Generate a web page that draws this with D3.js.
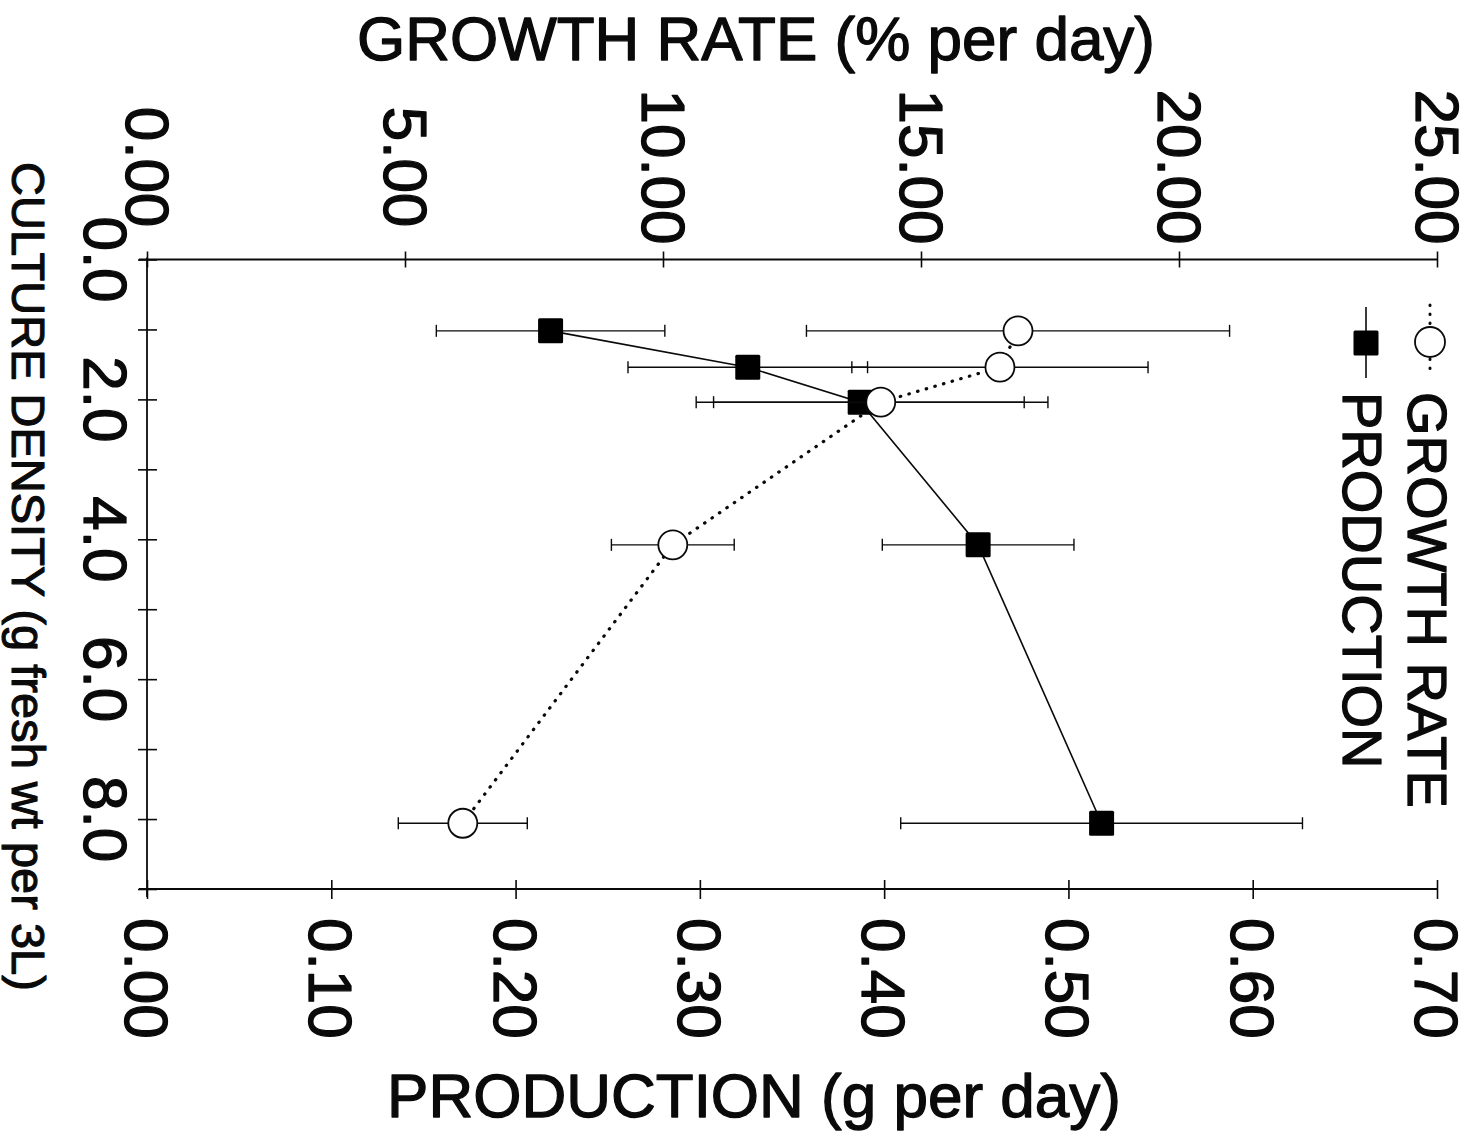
<!DOCTYPE html>
<html><head><meta charset="utf-8">
<script src="https://cdn.jsdelivr.net/npm/d3@7"></script>
<style>body{margin:0;background:#fff} svg{display:block}</style>
</head><body><svg id="c" width="1479" height="1140"></svg>
<script>
// ---- data ----
const density = [1.02, 1.54, 2.04, 4.08, 8.06];
const production = [0.219, 0.326, 0.387, 0.451, 0.518];
const productionErr = [0.062, 0.065, 0.089, 0.052, 0.109];
const growth = [16.88, 16.53, 14.22, 10.19, 6.12];
const growthErr = [4.1, 2.87, 3.24, 1.19, 1.25];
const densityTicks = [0, 1, 2, 3, 4, 5, 6, 7, 8, 9];
const densityLabels = [0, 2, 4, 6, 8];
const productionTicks = [0, 0.1, 0.2, 0.3, 0.4, 0.5, 0.6, 0.7];
const growthTicks = [0, 5, 10, 15, 20, 25];
const titleTop = "GROWTH RATE (% per day)";
const titleBottom = "PRODUCTION (g per day)";
const titleLeft = "CULTURE DENSITY (g fresh wt per 3L)";
const legendNames = ["GROWTH RATE", "PRODUCTION"];

(function () {
// ---- layout ----
const svg = d3.select("#c");
const FONT = "'Liberation Sans', Arial, Helvetica, sans-serif";
const pL = 147, pR = 1437, pT = 259.5, pB = 889;
const y = d3.scaleLinear().domain([0, 9]).range([pT, pB]);
const xP = d3.scaleLinear().domain([0, 0.7]).range([pL, pR]);
const xG = d3.scaleLinear().domain([0, 25]).range([pL, pR]);

svg.append("rect").attr("width", 1479).attr("height", 1140).attr("fill", "#fff");

const ink = "#0a0a0a";
function styleAxis(g) {
  g.select(".domain").remove();
  g.selectAll(".tick text").remove();
  g.selectAll(".tick line").attr("stroke", ink).attr("stroke-width", 1.6);
}

// bottom axis (production)
const gB = svg.append("g").attr("transform", `translate(0,${pB})`)
  .call(d3.axisBottom(xP).tickValues(productionTicks).tickSize(10));
styleAxis(gB);
gB.selectAll(".tick line").attr("y1", -9).attr("y2", 10);
svg.append("line").attr("x1", pL - 8).attr("x2", pR).attr("y1", pB).attr("y2", pB)
  .attr("stroke", ink).attr("stroke-width", 1.8);

// top axis (growth)
const gT = svg.append("g").attr("transform", `translate(0,${pT})`)
  .call(d3.axisTop(xG).tickValues(growthTicks).tickSize(8));
styleAxis(gT);
gT.selectAll(".tick line").attr("y1", -8).attr("y2", 8);
svg.append("line").attr("x1", pL - 8).attr("x2", pR).attr("y1", pT).attr("y2", pT)
  .attr("stroke", ink).attr("stroke-width", 1.8);

// left axis (density)
const gL = svg.append("g").attr("transform", `translate(${pL},0)`)
  .call(d3.axisLeft(y).tickValues(densityTicks).tickSize(9));
styleAxis(gL);
gL.selectAll(".tick line").attr("x1", -9).attr("x2", 10);
svg.append("line").attr("x1", pL).attr("x2", pL).attr("y1", pT - 2).attr("y2", pB + 8)
  .attr("stroke", ink).attr("stroke-width", 1.8);

// tick labels (rotated 90deg, reading top to bottom)
const labelStyle = s => s.attr("font-family", FONT).attr("font-size", 62).attr("fill", ink)
  .attr("stroke", ink).attr("stroke-width", 1.3).attr("stroke-linejoin", "round");

svg.append("g").selectAll("text").data(productionTicks).join("text")
  .attr("transform", d => `translate(${xP(d) - 22},918) rotate(90)`)
  .attr("text-anchor", "start").text(d => d.toFixed(2)).call(labelStyle);

svg.append("g").selectAll("text").data(growthTicks).join("text")
  .attr("transform", d => `translate(${xG(d) - 21},167) rotate(90)`)
  .attr("text-anchor", "middle").text(d => d.toFixed(2)).call(labelStyle);

svg.append("g").selectAll("text").data(densityLabels).join("text")
  .attr("transform", d => `translate(84,${y(d)}) rotate(90)`)
  .attr("text-anchor", "middle").text(d => d.toFixed(1)).call(labelStyle);

// titles
svg.append("text").attr("x", 756).attr("y", 60).attr("text-anchor", "middle")
  .text(titleTop).call(labelStyle);
svg.append("text").attr("x", 754).attr("y", 1117).attr("text-anchor", "middle")
  .text(titleBottom).call(labelStyle);
svg.append("text").attr("transform", "translate(12,162) rotate(90)").attr("text-anchor", "start")
  .text(titleLeft).call(labelStyle).attr("font-size", 47).attr("stroke-width", 1.1);

// ---- series ----
const prodData = density.map((d, i) => ({ d, v: production[i], e: productionErr[i] }));
const growData = density.map((d, i) => ({ d, v: growth[i], e: growthErr[i] }));

svg.append("path").datum(prodData)
  .attr("d", d3.line().x(p => xP(p.v)).y(p => y(p.d)))
  .attr("fill", "none").attr("stroke", ink).attr("stroke-width", 1.6);

function errorBars(data, x) {
  const g = svg.append("g").attr("stroke", ink).attr("stroke-width", 1.4);
  g.selectAll("line.h").data(data).join("line").attr("class", "h")
    .attr("x1", p => x(p.v - p.e)).attr("x2", p => x(p.v + p.e))
    .attr("y1", p => y(p.d)).attr("y2", p => y(p.d));
  g.selectAll("line.l").data(data).join("line").attr("class", "l")
    .attr("x1", p => x(p.v - p.e)).attr("x2", p => x(p.v - p.e))
    .attr("y1", p => y(p.d) - 6).attr("y2", p => y(p.d) + 6);
  g.selectAll("line.r").data(data).join("line").attr("class", "r")
    .attr("x1", p => x(p.v + p.e)).attr("x2", p => x(p.v + p.e))
    .attr("y1", p => y(p.d) - 6).attr("y2", p => y(p.d) + 6);
}
errorBars(prodData, xP);

svg.append("g").selectAll("rect").data(prodData).join("rect")
  .attr("x", p => xP(p.v) - 12.5).attr("y", p => y(p.d) - 12.5)
  .attr("width", 25).attr("height", 25).attr("rx", 1.5).attr("fill", "#000");

svg.append("path").datum(growData)
  .attr("d", d3.line().x(p => xG(p.v)).y(p => y(p.d)))
  .attr("fill", "none").attr("stroke", ink).attr("stroke-width", 3.2)
  .attr("stroke-linecap", "round").attr("stroke-dasharray", "0.5,8.5");

errorBars(growData, xG);

svg.append("g").selectAll("circle").data(growData).join("circle")
  .attr("cx", p => xG(p.v)).attr("cy", p => y(p.d)).attr("r", 14.5)
  .attr("fill", "#fff").attr("stroke", ink).attr("stroke-width", 1.8);

// ---- legend ----
const lg = svg.append("g");
lg.append("line").attr("x1", 1430).attr("x2", 1430).attr("y1", 305).attr("y2", 376)
  .attr("stroke", ink).attr("stroke-width", 3).attr("stroke-linecap", "round")
  .attr("stroke-dasharray", "0.5,8.5");
lg.append("circle").attr("cx", 1430).attr("cy", 342).attr("r", 15)
  .attr("fill", "#fff").attr("stroke", ink).attr("stroke-width", 1.8);
lg.append("line").attr("x1", 1366).attr("x2", 1366).attr("y1", 307).attr("y2", 378)
  .attr("stroke", ink).attr("stroke-width", 1.6);
lg.append("rect").attr("x", 1366 - 12.5).attr("y", 343 - 12.5).attr("width", 25).attr("height", 25)
  .attr("rx", 1.5).attr("fill", "#000");
lg.append("text").attr("transform", "translate(1408,392) rotate(90)")
  .text(legendNames[0]).call(labelStyle).attr("font-size", 56);
lg.append("text").attr("transform", "translate(1343,392) rotate(90)")
  .text(legendNames[1]).call(labelStyle).attr("font-size", 56);
})();
</script>
</body></html>
